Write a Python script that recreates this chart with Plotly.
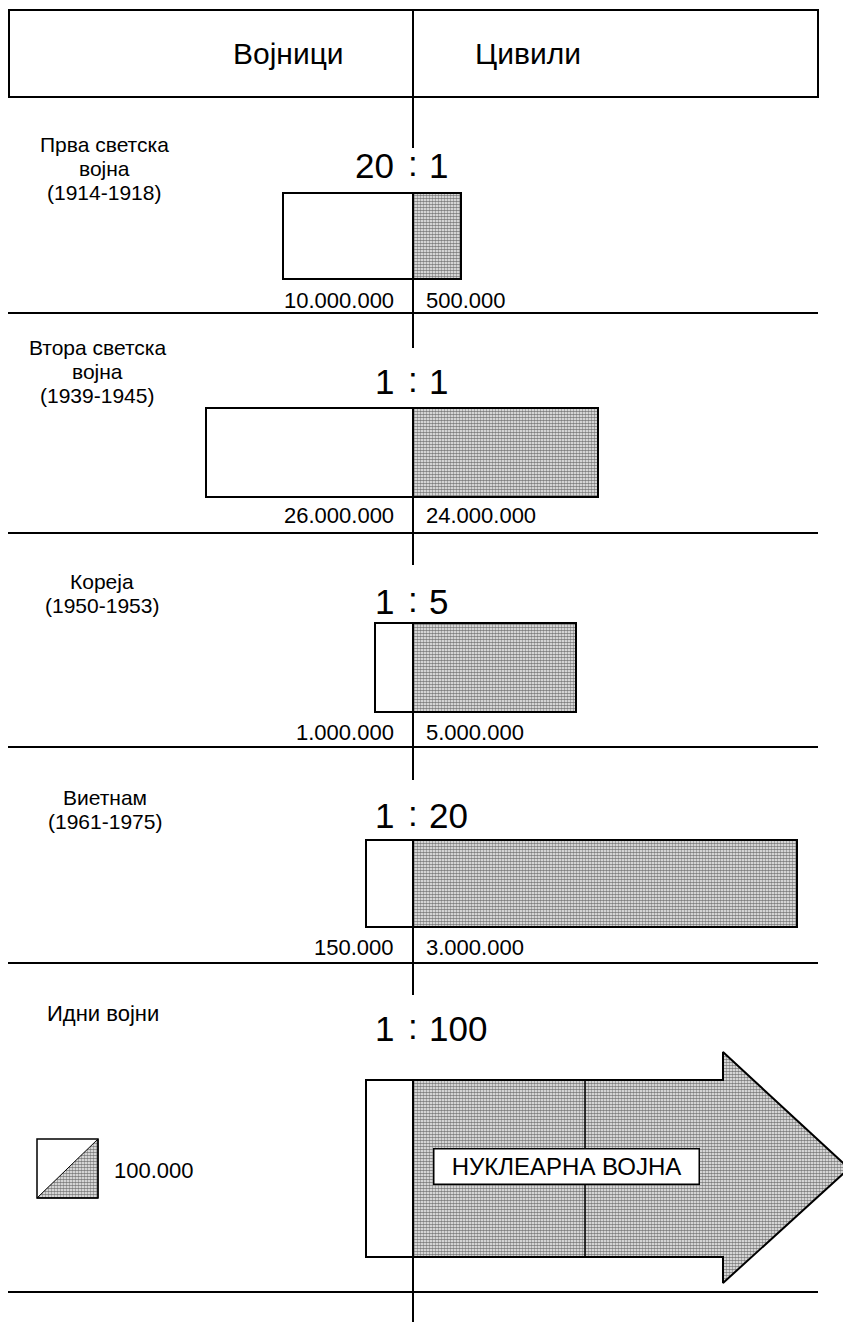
import plotly.graph_objects as go

# data
wars = [
    ["Прва светска", "војна", "(1914-1918)"],
    ["Втора светска", "војна", "(1939-1945)"],
    ["Кореја", "(1950-1953)"],
    ["Виетнам", "(1961-1975)"],
]
future_label = "Идни војни"
ratio_soldiers = ["20", "1", "1", "1", "1"]
ratio_civilians = ["1", "1", "5", "20", "100"]
soldier_labels = ["10.000.000", "26.000.000", "1.000.000", "150.000"]
civilian_labels = ["500.000", "24.000.000", "5.000.000", "3.000.000"]
# bar lengths as drawn in the picture (not to scale with the totals)
soldier_len = [130, 207, 38, 47, 47]
civilian_len = [48, 185, 163, 384, 436]
legend_value = "100.000"
arrow_text = "НУКЛЕАРНА ВОЈНА"

# layout of the page (pixels, y down, x measured from the centre line)
FONT = "Liberation Sans, Arial, Helvetica, sans-serif"
PAGE_MARGIN = 8  # default body margin of the html page
bar_top = [193, 408, 623, 840, 1080]
bar_bot = [279, 497, 712, 927, 1257]
ratio_y = [165, 381, 601, 815, 1028]
label_y = [[144, 168, 192], [347, 371, 395], [581, 605], [797, 821]]
label_x = [-309, -316, -311, -308]
value_y = [300, 515, 732, 947]
sep_y = [313, 533, 747, 963, 1292]
head_len = 126
head_top, head_bot = 1052, 1283

pattern = dict(shape=".", fgcolor="black", bgcolor="white", size=3, solidity=0.65)

fig = go.Figure()

centers = [(t + b) / 2 for t, b in zip(bar_top, bar_bot)]
heights = [b - t for t, b in zip(bar_top, bar_bot)]

fig.add_trace(
    go.Bar(
        x=[-v for v in soldier_len],
        y=centers,
        width=heights,
        base=0,
        orientation="h",
        marker=dict(color="white", line=dict(color="black", width=2)),
        hoverinfo="skip",
    )
)

fig.add_trace(
    go.Bar(
        x=civilian_len[:4],
        y=centers[:4],
        width=heights[:4],
        base=0,
        orientation="h",
        marker=dict(color="white", pattern=pattern, line=dict(color="black", width=2)),
        hoverinfo="skip",
    )
)

# future wars: civilians as an arrow
tip = civilian_len[4]
body = tip - head_len
top, bot = bar_top[4], bar_bot[4]
fig.add_trace(
    go.Scatter(
        x=[0, body, body, tip, body, body, 0, 0],
        y=[top, top, head_top, centers[4], head_bot, bot, bot, top],
        mode="lines",
        fill="toself",
        fillcolor="white",
        fillpattern=pattern,
        line=dict(color="black", width=2),
        hoverinfo="skip",
    )
)

# legend square: lower-right half shaded
lx0, lx1, ly0, ly1 = -376, -315, 1139, 1198
fig.add_trace(
    go.Scatter(
        x=[lx0, lx1, lx1, lx0],
        y=[ly1, ly1, ly0, ly1],
        mode="lines",
        fill="toself",
        fillcolor="white",
        fillpattern=pattern,
        line=dict(color="black", width=1),
        hoverinfo="skip",
    )
)

shapes = []
line = dict(color="black", width=2)
shapes.append(dict(type="rect", x0=-404, x1=405, y0=10, y1=97, line=line))
for y in sep_y:
    shapes.append(dict(type="line", x0=-405, x1=405, y0=y, y1=y, line=line))
segments = [(10, 148), (279, 348), (497, 565), (712, 780), (927, 995), (1257, 1322)]
for y0, y1 in segments:
    shapes.append(dict(type="line", x0=0, x1=0, y0=y0, y1=y1, line=line))
shapes.append(dict(type="line", x0=172, x1=172, y0=top, y1=bot, line=dict(color="black", width=1.5)))
shapes.append(dict(type="rect", x0=lx0, x1=lx1, y0=ly0, y1=ly1, line=dict(color="black", width=1.5)))

ann = []


def text(x, y, s, size, anchor="center", **kw):
    ann.append(dict(x=x, y=y, text=s, showarrow=False, xanchor=anchor, yanchor="middle",
                    font=dict(family=FONT, size=size, color="black"), **kw))


text(-125, 53, "Војници", 30)
text(115, 53, "Цивили", 30)

for i, lines in enumerate(wars):
    for s, y in zip(lines, label_y[i]):
        text(label_x[i], y, s, 21)
text(-368, 1013, future_label, 22, anchor="left")

for i in range(5):
    text(-17, ratio_y[i], ratio_soldiers[i], 35, anchor="right")
    text(0, ratio_y[i] - 2, ":", 35)
    text(14, ratio_y[i], ratio_civilians[i], 35, anchor="left")

for i in range(4):
    text(-17, value_y[i], soldier_labels[i], 22, anchor="right")
    text(11, value_y[i], civilian_labels[i], 22, anchor="left")

text(-301, 1170, legend_value, 22, anchor="left")
text(153, 1166, arrow_text, 24, bgcolor="white", bordercolor="black", borderwidth=1.5,
     width=262, height=32)

fig.update_layout(
    width=851 - PAGE_MARGIN,
    height=1322 - PAGE_MARGIN,
    margin=dict(l=0, r=0, t=0, b=0),
    paper_bgcolor="white",
    plot_bgcolor="white",
    showlegend=False,
    barmode="overlay",
    shapes=shapes,
    annotations=ann,
    xaxis=dict(range=[PAGE_MARGIN - 413, 438], visible=False, fixedrange=True),
    yaxis=dict(range=[1322, PAGE_MARGIN], visible=False, fixedrange=True),
)

fig.write_html("out.html")
